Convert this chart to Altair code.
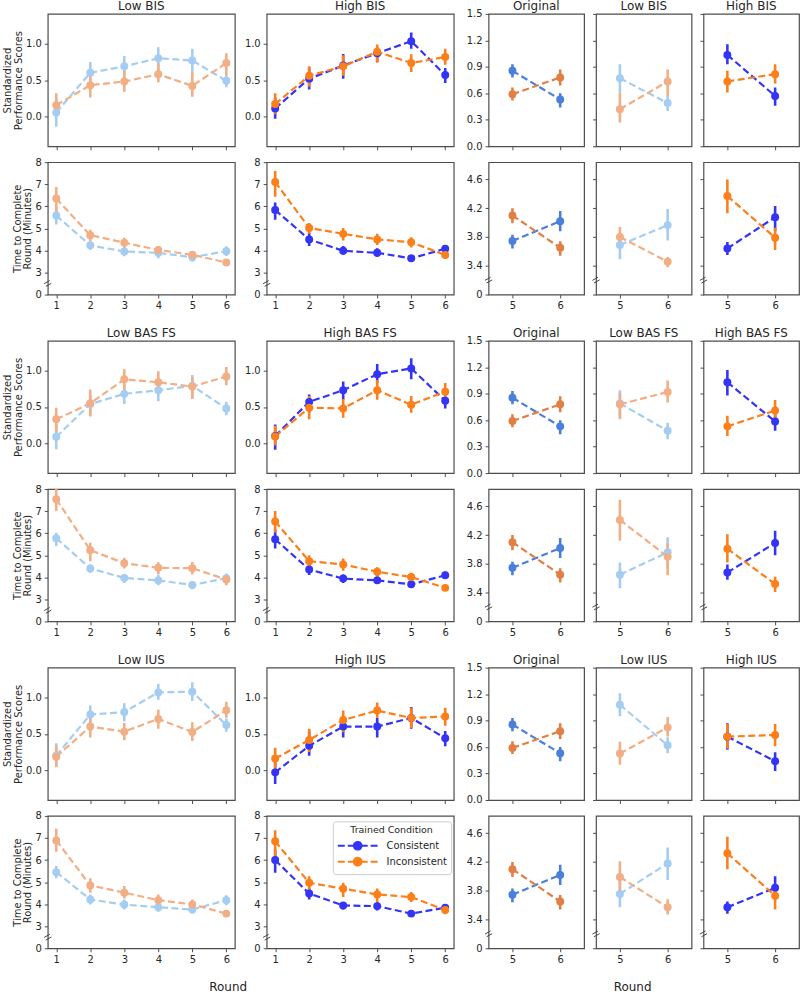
import altair as alt
import pandas as pd

ROUNDS = [1, 2, 3, 4, 5, 6]
LATE_ROUNDS = [5, 6]
CONDITIONS = ["Consistent", "Inconsistent"]

# Each entry: (mean, lower CI, upper CI) for one round.
BIS_LOW_PERF_CON = [(0.055, -0.14, 0.25), (0.60, 0.46, 0.75), (0.69, 0.55, 0.83), (0.80, 0.63, 0.95), (0.77, 0.61, 0.93), (0.49, 0.40, 0.57)]
BIS_LOW_PERF_INC = [(0.155, 0.01, 0.32), (0.43, 0.26, 0.59), (0.48, 0.34, 0.63), (0.58, 0.47, 0.73), (0.42, 0.27, 0.61), (0.735, 0.57, 0.87)]
BIS_HIGH_PERF_CON = [(0.11, -0.03, 0.26), (0.52, 0.37, 0.67), (0.70, 0.52, 0.86), (0.87, 0.75, 0.95), (1.035, 0.93, 1.155), (0.57, 0.46, 0.667)]
BIS_HIGH_PERF_INC = [(0.17, 0.03, 0.32), (0.56, 0.41, 0.69), (0.69, 0.56, 0.84), (0.89, 0.74, 0.99), (0.735, 0.61, 0.855), (0.817, 0.71, 0.93)]
BIS_LOW_TIME_CON = [(5.58, 5.17, 5.98), (4.23, 4.02, 4.39), (3.95, 3.73, 4.13), (3.89, 3.65, 4.09), (3.69, 3.49, 3.86), (3.965, 3.75, 4.19)]
BIS_LOW_TIME_INC = [(6.35, 5.76, 6.87), (4.69, 4.42, 4.94), (4.35, 4.10, 4.57), (4.02, 3.83, 4.20), (3.80, 3.65, 3.94), (3.456, 3.38, 3.52)]
BIS_HIGH_TIME_CON = [(5.83, 5.39, 6.17), (4.50, 4.20, 4.80), (3.98, 3.80, 4.20), (3.89, 3.71, 4.10), (3.64, 3.55, 3.73), (4.075, 3.88, 4.23)]
BIS_HIGH_TIME_INC = [(7.10, 6.43, 7.60), (5.02, 4.75, 5.24), (4.75, 4.45, 5.02), (4.50, 4.25, 4.75), (4.37, 4.13, 4.60), (3.79, 3.62, 3.93)]

BAS_LOW_PERF_CON = [(0.09, -0.08, 0.26), (0.54, 0.40, 0.66), (0.68, 0.54, 0.81), (0.73, 0.58, 0.85), (0.79, 0.63, 0.94), (0.48, 0.385, 0.57)]
BAS_LOW_PERF_INC = [(0.33, 0.15, 0.49), (0.55, 0.37, 0.74), (0.88, 0.74, 1.02), (0.84, 0.70, 0.99), (0.78, 0.61, 0.91), (0.92, 0.80, 1.05)]
BAS_HIGH_PERF_CON = [(0.10, -0.09, 0.26), (0.57, 0.42, 0.67), (0.73, 0.60, 0.85), (0.95, 0.83, 1.09), (1.03, 0.88, 1.17), (0.585, 0.48, 0.68)]
BAS_HIGH_PERF_INC = [(0.095, -0.03, 0.24), (0.49, 0.33, 0.65), (0.48, 0.35, 0.61), (0.73, 0.60, 0.87), (0.53, 0.42, 0.65), (0.71, 0.62, 0.83)]
BAS_LOW_TIME_CON = [(5.77, 5.42, 6.02), (4.40, 4.20, 4.58), (3.97, 3.74, 4.15), (3.86, 3.64, 4.12), (3.65, 3.46, 3.82), (3.96, 3.74, 4.17)]
BAS_LOW_TIME_INC = [(7.54, 7.00, 8.10), (5.23, 4.73, 5.57), (4.64, 4.40, 4.89), (4.43, 4.15, 4.68), (4.41, 4.12, 4.69), (3.90, 3.64, 4.09)]
BAS_HIGH_TIME_CON = [(5.72, 5.31, 6.18), (4.35, 4.10, 4.58), (3.94, 3.74, 4.12), (3.86, 3.70, 4.09), (3.68, 3.58, 3.79), (4.09, 3.92, 4.26)]
BAS_HIGH_TIME_INC = [(6.53, 6.03, 7.00), (4.73, 4.50, 5.00), (4.58, 4.30, 4.85), (4.25, 4.00, 4.45), (4.01, 3.82, 4.21), (3.52, 3.41, 3.62)]

IUS_LOW_PERF_CON = [(0.20, 0.05, 0.37), (0.765, 0.64, 0.89), (0.80, 0.67, 0.92), (1.07, 0.97, 1.19), (1.08, 0.95, 1.21), (0.62, 0.53, 0.71)]
IUS_LOW_PERF_INC = [(0.185, 0.04, 0.34), (0.60, 0.45, 0.75), (0.53, 0.41, 0.65), (0.705, 0.57, 0.83), (0.526, 0.40, 0.66), (0.823, 0.72, 0.94)]
IUS_HIGH_PERF_CON = [(-0.03, -0.19, 0.11), (0.335, 0.20, 0.54), (0.60, 0.45, 0.74), (0.60, 0.45, 0.72), (0.718, 0.57, 0.87), (0.44, 0.33, 0.54)]
IUS_HIGH_PERF_INC = [(0.16, 0.02, 0.31), (0.415, 0.25, 0.57), (0.69, 0.52, 0.82), (0.82, 0.72, 0.93), (0.718, 0.58, 0.86), (0.737, 0.61, 0.86)]
IUS_LOW_TIME_CON = [(5.45, 5.17, 5.73), (4.21, 3.98, 4.44), (3.98, 3.76, 4.21), (3.86, 3.65, 4.06), (3.756, 3.57, 3.95), (4.18, 3.95, 4.40)]
IUS_LOW_TIME_INC = [(6.89, 6.38, 7.42), (4.85, 4.52, 5.17), (4.52, 4.26, 4.82), (4.18, 3.95, 4.44), (3.99, 3.77, 4.21), (3.57, 3.47, 3.68)]
IUS_HIGH_TIME_CON = [(6.00, 5.42, 6.48), (4.48, 4.21, 4.74), (3.94, 3.76, 4.10), (3.91, 3.71, 4.10), (3.57, 3.48, 3.65), (3.84, 3.68, 4.00)]
IUS_HIGH_TIME_INC = [(6.85, 6.10, 7.35), (4.97, 4.44, 5.27), (4.70, 4.32, 4.97), (4.44, 4.06, 4.71), (4.32, 4.10, 4.55), (3.73, 3.54, 3.89)]

# Original sample, rounds 5 and 6 only.
ORIG_PERF_CON = [(0.855, 0.78, 0.93), (0.53, 0.44, 0.60)]
ORIG_PERF_INC = [(0.59, 0.52, 0.667), (0.78, 0.69, 0.87)]
ORIG_TIME_CON = [(3.745, 3.64, 3.83), (4.02, 3.88, 4.16)]
ORIG_TIME_INC = [(4.10, 3.99, 4.20), (3.65, 3.54, 3.74)]

GROUP_NAMES = ["BIS", "BAS FS", "IUS"]
GROUP_SERIES = [
    (BIS_LOW_PERF_CON, BIS_LOW_PERF_INC, BIS_HIGH_PERF_CON, BIS_HIGH_PERF_INC,
     BIS_LOW_TIME_CON, BIS_LOW_TIME_INC, BIS_HIGH_TIME_CON, BIS_HIGH_TIME_INC),
    (BAS_LOW_PERF_CON, BAS_LOW_PERF_INC, BAS_HIGH_PERF_CON, BAS_HIGH_PERF_INC,
     BAS_LOW_TIME_CON, BAS_LOW_TIME_INC, BAS_HIGH_TIME_CON, BAS_HIGH_TIME_INC),
    (IUS_LOW_PERF_CON, IUS_LOW_PERF_INC, IUS_HIGH_PERF_CON, IUS_HIGH_PERF_INC,
     IUS_LOW_TIME_CON, IUS_LOW_TIME_INC, IUS_HIGH_TIME_CON, IUS_HIGH_TIME_INC),
]

LOW_COLORS = ["#a5cdf2", "#f2ae84"]
HIGH_COLORS = ["#3434f6", "#fc7f1a"]
ORIG_COLORS = ["#4a7fdb", "#e27f45"]

PERF_TITLE = ["Standardized", "Performance Scores"]
TIME_TITLE = ["Time to Complete", "Round (Minutes)"]

X_DOMAIN = {"full": [0.75, 6.25], "late": [4.5, 6.5]}
Y_DOMAIN = {
    ("perf", "full"): [-0.41, 1.41],
    ("perf", "late"): [0.0, 1.5],
    ("time", "full"): [2.0, 8.0],
    ("time", "late"): [3.0, 4.84],
}
Y_TICKS = {
    ("perf", "full"): [0.0, 0.5, 1.0],
    ("perf", "late"): [0.0, 0.3, 0.6, 0.9, 1.2, 1.5],
    ("time", "full"): [2, 3, 4, 5, 6, 7, 8],
    ("time", "late"): [3.0, 3.4, 3.8, 4.2, 4.6],
}
# The time axes are broken: the lowest tick stands for zero.
LABEL_EXPR = {
    ("perf", "full"): "format(datum.value, '.1f')",
    ("perf", "late"): "format(datum.value, '.1f')",
    ("time", "full"): "datum.value < 2.5 ? '0' : format(datum.value, 'd')",
    ("time", "late"): "datum.value < 3.1 ? '0' : format(datum.value, '.1f')",
}
BREAK_AT = {"full": 2.5, "late": 3.2}

BREAK_SHAPE = "M-0.9,0.05L0.5,-0.72M-0.5,0.72L0.9,-0.05"
LEGEND_SHAPE = ("M-1,0H0M0.43,0H1.3M2.41,0H3.29M3.71,0H4.71"
                "M1.3,0A0.55,0.55,0,1,0,2.41,0A0.55,0.55,0,1,0,1.3,0Z")

FULL_W, LATE_W, PANEL_H = 188, 96, 133
TITLE_OFFSET = 0.5
# a tick label sitting on the top edge pushes a title up by about half its height
LABELLED_TOP_SHIFT = 5


def series_frame(con, inc, rounds):
    rows = []
    for cond, series in zip(CONDITIONS, (con, inc)):
        for r, (m, lo, hi) in zip(rounds, series[-len(rounds):]):
            rows.append({"round": r, "cond": cond, "mean": m, "lo": lo, "hi": hi})
    return pd.DataFrame(rows)


def panel(con, inc, measure, span, colors, title=None, y_title=None,
          y_labels=True, x_labels=False, legend=None):
    rounds = ROUNDS if span == "full" else LATE_ROUNDS
    df = series_frame(con, inc, rounds)

    x_axis = alt.Axis(values=rounds, labels=x_labels, title=None, format="d")
    y_kw = dict(values=Y_TICKS[(measure, span)], labels=y_labels, title=y_title)
    if y_labels:
        y_kw["labelExpr"] = LABEL_EXPR[(measure, span)]
    y_axis = alt.Axis(**y_kw)
    x_scale = alt.Scale(domain=X_DOMAIN[span], nice=False, zero=False)
    y_scale = alt.Scale(domain=Y_DOMAIN[(measure, span)], nice=False, zero=False)

    def xenc():
        return alt.X("round:Q", scale=x_scale, axis=x_axis)

    def yenc(field):
        return alt.Y(f"{field}:Q", scale=y_scale, axis=y_axis)

    if legend is None:
        color = alt.Color("cond:N", scale=alt.Scale(domain=CONDITIONS, range=colors), legend=None)
    else:
        color = alt.Color("cond:N", scale=alt.Scale(domain=CONDITIONS, range=colors), legend=legend)

    base = alt.Chart(df)
    bars = base.mark_rule(strokeWidth=2.6, clip=True).encode(
        x=xenc(), y=yenc("lo"), y2="hi:Q", color=color)
    lines = base.mark_line(strokeWidth=2.2, strokeDash=[7, 3.5], clip=True).encode(
        x=xenc(), y=yenc("mean"), color=color)
    dots = base.mark_circle(size=64, opacity=1, clip=True).encode(
        x=xenc(), y=yenc("mean"), color=color)
    layers = [bars, lines, dots]

    if measure == "time":
        brk = pd.DataFrame({"round": [X_DOMAIN[span][0]], "mark": [BREAK_AT[span]]})
        layers.append(
            alt.Chart(brk).mark_point(shape=BREAK_SHAPE, size=64, filled=False,
                                      stroke="#444444", strokeWidth=1, opacity=1)
            .encode(x=xenc(), y=yenc("mark"))
        )

    props = dict(width=FULL_W if span == "full" else LATE_W, height=PANEL_H)
    if title is not None:
        offset = TITLE_OFFSET
        if measure == "perf" and span == "late" and y_labels:
            offset -= LABELLED_TOP_SHIFT
        props["title"] = alt.TitleParams(title, anchor="middle", fontWeight=400,
                                         fontSize=12, offset=offset)
    return alt.layer(*layers).properties(**props)


trained_legend = alt.Legend(
    title="Trained Condition", orient="none", legendX=66.5, legendY=5.5,
    fillColor="white", strokeColor="#cccccc", cornerRadius=3, padding=4,
    titleFontSize=9.5, titleFontWeight=400, titleAnchor="middle", titlePadding=3,
    labelFontSize=10, symbolType=LEGEND_SHAPE, symbolSize=196, symbolStrokeWidth=2,
    symbolDash=[1, 0], labelOffset=34, rowPadding=0,
)

round_title = alt.TitleParams("Round", orient="bottom", anchor="middle", frame="bounds",
                              fontSize=12, fontWeight=400, offset=17)

rows = []
for gi, (name, s) in enumerate(zip(GROUP_NAMES, GROUP_SERIES)):
    lp_c, lp_i, hp_c, hp_i, lt_c, lt_i, ht_c, ht_i = s
    last = gi == len(GROUP_NAMES) - 1
    left = alt.concat(
        panel(lp_c, lp_i, "perf", "full", LOW_COLORS, title=f"Low {name}", y_title=PERF_TITLE),
        panel(hp_c, hp_i, "perf", "full", HIGH_COLORS, title=f"High {name}"),
        panel(lt_c, lt_i, "time", "full", LOW_COLORS, y_title=TIME_TITLE, x_labels=True),
        panel(ht_c, ht_i, "time", "full", HIGH_COLORS, x_labels=True,
              legend=trained_legend if last else None),
        columns=2, spacing={"row": 16, "column": 32}, bounds="flush",
    ).resolve_scale(color="independent")
    right = alt.concat(
        panel(ORIG_PERF_CON, ORIG_PERF_INC, "perf", "late", ORIG_COLORS, title="Original"),
        panel(lp_c, lp_i, "perf", "late", LOW_COLORS, title=f"Low {name}", y_labels=False),
        panel(hp_c, hp_i, "perf", "late", HIGH_COLORS, title=f"High {name}", y_labels=False),
        panel(ORIG_TIME_CON, ORIG_TIME_INC, "time", "late", ORIG_COLORS, x_labels=True),
        panel(lt_c, lt_i, "time", "late", LOW_COLORS, y_labels=False, x_labels=True),
        panel(ht_c, ht_i, "time", "late", HIGH_COLORS, y_labels=False, x_labels=True),
        columns=3, spacing={"row": 16, "column": 12}, bounds="flush",
    ).resolve_scale(color="independent")
    if last:
        left = left.properties(title=round_title)
        right = right.properties(title=round_title)
    rows.append(alt.hconcat(left, right, spacing=10).resolve_scale(color="independent"))

chart = (
    alt.vconcat(*rows, spacing=13.5)
    .resolve_scale(color="independent")
    .properties(padding={"left": 1, "top": -3.5, "right": 0, "bottom": 0})
    .configure(font="DejaVu Sans",
               style={"group-title": {"fontWeight": 400},
                      "guide-title": {"fontWeight": 400}})
    .configure_view(stroke="#4d4d4d", strokeWidth=1.2)
    .configure_axis(
        grid=False, domain=False, tickColor="#4d4d4d", tickSize=3.5, tickWidth=1,
        labelFontSize=10, labelColor="#262626", labelPadding=3,
        titleFontSize=10, titleFontWeight=400, titleColor="#262626",
        titlePadding=2, titleLineHeight=11,
    )
    .configure_title(fontSize=12, fontWeight=400, color="#262626")
    .configure_legend(labelColor="#262626", titleColor="#262626", titleFontWeight=400)
)

chart.save("out.html", embed_options={"renderer": "svg", "actions": False})
